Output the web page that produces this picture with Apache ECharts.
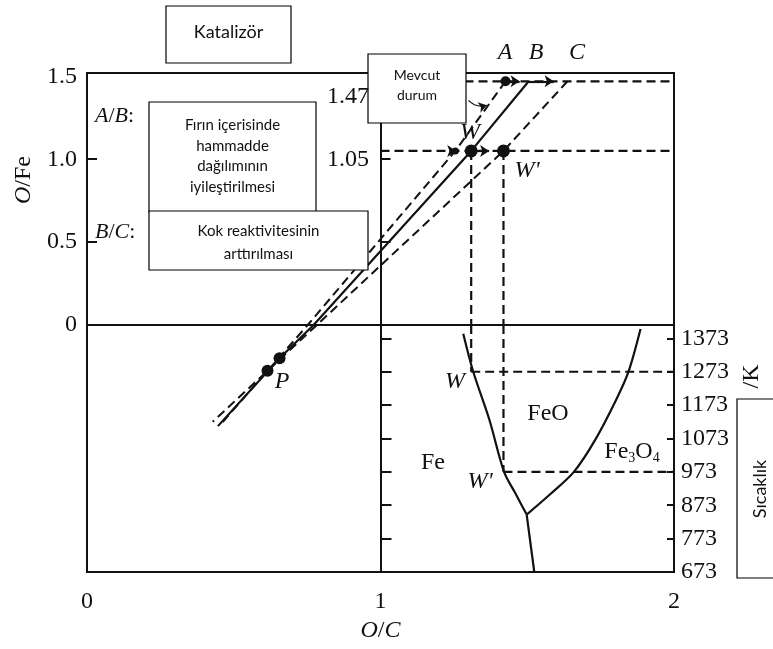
<!DOCTYPE html>
<html><head><meta charset="utf-8">
<script src="https://cdn.jsdelivr.net/npm/echarts@6/dist/echarts.min.js"></script>
<style>html,body{margin:0;padding:0;background:#fff}#c{width:773px;height:649px}</style>
</head><body><div id="c"></div>
<script>
// ---- data ----
const xTickLabels = [0, 1, 2];                 // O/C
const oFeTickLabels = [0, 0.5, 1.0, 1.5];      // O/Fe
const oFeTicks = [0.5, 1.0];
const tempTicks = [673, 773, 873, 973, 1073, 1173, 1273, 1373]; // K
// operating lines (O/C, O/Fe)
const lineA = [[1.426, 1.47], [1.255, 1.05], [0.752, 0], [0.46, -0.59]];
const lineB = [[1.505, 1.47], [1.309, 1.05], [0.772, 0], [0.656, -0.201], [0.446, -0.61]];
const lineC = [[1.637, 1.47], [1.419, 1.05], [0.783, 0], [0.428, -0.584]];
const pPoints = [[0.615, -0.276], [0.656, -0.201]];
const level147 = 1.47;
const level105 = 1.05;
const wOC = 1.309, wpOC = 1.419, aOC = 1.426, bOC = 1.505, aLowOC = 1.255;
const wTemp = 1273, wpTemp = 973;
// phase boundaries (O/C, T/K)
const feFeO = [[1.282, 1387], [1.316, 1273], [1.371, 1129], [1.421, 973], [1.46, 908], [1.498, 845]];
const feoFe3o4 = [[1.498, 845], [1.578, 906], [1.659, 973], [1.731, 1068], [1.803, 1189], [1.845, 1273], [1.886, 1401]];
const feFe3o4 = [[1.498, 845], [1.524, 673]];
// arrow segments (O/C) on the level lines
const arrows147 = [[aOC, 1.474], [bOC, 1.59]];
const arrows105 = [[wOC, 1.37], [1.235, 1.258]];

// ---- layout ----
const serif = '"Liberation Serif","Times New Roman",serif';
const sans = 'Lato,"Open Sans",sans-serif';
const GL = 87, GW = 587;
const oFeMax = 1.52, oFeMin = -1.49, tMin = 673, tMax = 1413;
const ink = '#111';

const chart = echarts.init(document.getElementById('c'), null, {renderer: 'canvas'});

function ln(data, xi, yi, dashed, w, smooth) {
  return {type: 'line', xAxisIndex: xi, yAxisIndex: yi, data: data, symbol: 'none', silent: true,
    smooth: smooth || false, clip: true, animation: false,
    lineStyle: {color: ink, width: w || 2, type: dashed ? [9, 5] : 'solid'}, z: 3};
}
function dots(data, xi, yi, size) {
  return {type: 'scatter', xAxisIndex: xi, yAxisIndex: yi, data: data, symbol: 'circle',
    symbolSize: size, itemStyle: {color: ink, opacity: 1}, silent: true, animation: false, z: 5};
}
function arrowSegs(list, y, xi, yi) {
  return {type: 'lines', coordinateSystem: 'cartesian2d', xAxisIndex: xi, yAxisIndex: yi,
    data: list.map(s => ({coords: [[s[0], y], [s[1], y]]})),
    symbol: ['none', 'arrow'], symbolSize: 9, lineStyle: {color: ink, width: 2.2, type: 'solid', opacity: 1},
    silent: true, animation: false, z: 4};
}

const series = [
  // upper grid
  ln(lineA, 0, 0, true, 2), ln(lineB, 0, 0, false, 2.2), ln(lineC, 0, 0, true, 2),
  ln([[1, level147], [2, level147]], 0, 0, true, 2.2),
  ln([[1, level105], [2, level105]], 0, 0, true, 2.2),
  ln([[wOC, level105], [wOC, 0]], 0, 0, true, 2.2),
  ln([[wpOC, level105], [wpOC, 0]], 0, 0, true, 2.2),
  dots([[wOC, level105], [wpOC, level105]], 0, 0, 13),
  dots([[aOC, level147]], 0, 0, 10),
  dots([[aLowOC, level105]], 0, 0, 7),
  arrowSegs(arrows147, level147, 0, 0),
  arrowSegs(arrows105, level105, 0, 0),
  {type: 'lines', coordinateSystem: 'cartesian2d', xAxisIndex: 0, yAxisIndex: 0,
    data: [{coords: [[1.30, 1.355], [1.362, 1.325]]}], symbol: ['none', 'arrow'], symbolSize: 8,
    lineStyle: {color: ink, width: 1.2, curveness: -0.3, opacity: 1}, silent: true, animation: false, z: 4},
  // lower grid, O/Fe axis
  ln(lineA, 1, 3, true, 2), ln(lineB, 1, 3, false, 2.2), ln(lineC, 1, 3, true, 2),
  dots(pPoints, 1, 3, 12),
  // lower grid, temperature axis
  ln([[wOC, tMax], [wOC, wTemp]], 1, 4, true, 2.2),
  ln([[wOC, wTemp], [2, wTemp]], 1, 4, true, 2.2),
  ln([[wpOC, tMax], [wpOC, wpTemp]], 1, 4, true, 2.2),
  ln([[wpOC, wpTemp], [2, wpTemp]], 1, 4, true, 2.2),
  ln(feFeO, 1, 4, false, 2.2, 0.3),
  ln(feoFe3o4, 1, 4, false, 2.2, 0.3),
  ln(feFe3o4, 1, 4, false, 2.2)
];

const axLine = {show: true, lineStyle: {color: ink, width: 2}};
const noSplit = {show: false};

function txt(text, x, y, font, extra) {
  return Object.assign({type: 'text', x: x, y: y, z: 50,
    style: {text: text, font: font, fill: ink, align: 'center', verticalAlign: 'middle',
      textAlign: 'center', textVerticalAlign: 'middle'}}, extra || {});
}
function box(x, y, w, h) {
  return {type: 'rect', z: 40, shape: {x: x, y: y, width: w, height: h},
    style: {fill: '#fff', stroke: '#000', lineWidth: 1.2}};
}

const option = {
  animation: false,
  backgroundColor: '#fff',
  grid: [
    {left: GL, top: 73, width: GW, height: 252, show: true, borderColor: ink, borderWidth: 2,
      backgroundColor: 'transparent', outerBoundsMode: 'none', containLabel: false},
    {left: GL, top: 325, width: GW, height: 247, show: true, borderColor: ink, borderWidth: 2,
      backgroundColor: 'transparent', outerBoundsMode: 'none', containLabel: false}
  ],
  xAxis: [
    {type: 'value', gridIndex: 0, min: 0, max: 2, show: false, splitLine: noSplit},
    {type: 'value', gridIndex: 1, min: 0, max: 2, interval: 1, axisLine: axLine, axisTick: {show: false},
      splitLine: noSplit,
      axisLabel: {margin: 18, fontFamily: serif, fontSize: 24, color: ink, customValues: xTickLabels,
        formatter: v => String(v)},
      name: '{i|O}/{i|C}', nameLocation: 'middle', nameGap: 47,
      nameTextStyle: {fontFamily: serif, fontSize: 24, color: ink, rich: {i: {fontStyle: 'italic', fontFamily: serif, fontSize: 24, color: ink}}}}
  ],
  yAxis: [
    {type: 'value', gridIndex: 0, min: 0, max: oFeMax, position: 'left', axisLine: axLine, splitLine: noSplit,
      axisTick: {show: true, inside: true, length: 10, lineStyle: {color: ink, width: 2}, customValues: oFeTicks},
      axisLabel: {margin: 10, fontFamily: serif, fontSize: 24, color: ink, customValues: oFeTickLabels,
        formatter: v => v === 0 ? '0' : v.toFixed(1)},
      name: '{i|O}/Fe', nameLocation: 'middle', nameRotate: 90, nameGap: 48,
      nameTextStyle: {fontFamily: serif, fontSize: 24, color: ink, padding: [0, 0, 0, 38],
        rich: {i: {fontStyle: 'italic', fontFamily: serif, fontSize: 24, color: ink}}}},
    {type: 'value', gridIndex: 0, min: 0, max: oFeMax, position: 'left', offset: -293.5, axisLine: axLine,
      splitLine: noSplit, axisLabel: {show: false},
      axisTick: {show: true, inside: true, length: 10, lineStyle: {color: ink, width: 2}, customValues: oFeTicks}},
    {type: 'value', gridIndex: 0, min: 0, max: oFeMax, position: 'right', axisLine: axLine, splitLine: noSplit,
      axisLabel: {show: false}, axisTick: {show: false}},
    {type: 'value', gridIndex: 1, min: oFeMin, max: 0, position: 'left', axisLine: axLine, splitLine: noSplit,
      axisLabel: {show: false}, axisTick: {show: false}},
    {type: 'value', gridIndex: 1, min: tMin, max: tMax, interval: 100, position: 'right', axisLine: axLine,
      splitLine: noSplit,
      axisTick: {show: true, inside: true, length: 7, lineStyle: {color: ink, width: 2}, customValues: tempTicks},
      axisLabel: {margin: 7, fontFamily: serif, fontSize: 24, color: ink, customValues: tempTicks,
        formatter: v => String(v)},
      name: '/K', nameLocation: 'middle', nameRotate: 90, nameGap: 64,
      nameTextStyle: {fontFamily: serif, fontSize: 24, color: ink, padding: [0, 0, 0, 144]}},
    {type: 'value', gridIndex: 1, min: tMin, max: tMax, interval: 100, position: 'left', offset: -293.5,
      axisLine: axLine, splitLine: noSplit, axisLabel: {show: false},
      axisTick: {show: true, inside: true, length: 11, lineStyle: {color: ink, width: 2}, customValues: tempTicks}}
  ],
  series: series,
  graphic: {elements: [
    txt('1.47', 369, 97, '24px ' + serif, {style: {text: '1.47', font: '24px ' + serif, fill: ink, align: 'right', verticalAlign: 'middle', textAlign: 'right', textVerticalAlign: 'middle'}}),
    txt('1.05', 369, 160, '24px ' + serif, {style: {text: '1.05', font: '24px ' + serif, fill: ink, align: 'right', verticalAlign: 'middle', textAlign: 'right', textVerticalAlign: 'middle'}}),
    txt('A', 505, 53, 'italic 24px ' + serif),
    txt('B', 536, 53, 'italic 24px ' + serif),
    txt('C', 577, 53, 'italic 24px ' + serif),
    txt('W', 470, 133, 'italic 24px ' + serif),
    txt("W'", 527, 171, 'italic 24px ' + serif),
    txt('P', 282, 382, 'italic 24px ' + serif),
    txt('W', 455, 382, 'italic 24px ' + serif),
    txt("W'", 480, 482, 'italic 24px ' + serif),
    txt('FeO', 548, 414, '24px ' + serif),
    txt('Fe', 433, 463, '24px ' + serif),
    {type: 'text', x: 632, y: 452, z: 50, style: {text: 'Fe{s|3}O{s|4}', font: '24px ' + serif, fill: ink,
      align: 'center', verticalAlign: 'middle', textAlign: 'center', textVerticalAlign: 'middle',
      rich: {s: {fontSize: 14, fontFamily: serif, padding: [12, 0, 0, 0], fill: ink}}}},
    {type: 'text', x: 95, y: 116, z: 50, style: {text: '{i|A}/{i|B}:', font: '22px ' + serif, fill: ink,
      align: 'left', verticalAlign: 'middle', textAlign: 'left', textVerticalAlign: 'middle',
      rich: {i: {fontStyle: 'italic', fontSize: 22, fontFamily: serif}}}},
    {type: 'text', x: 95, y: 232, z: 50, style: {text: '{i|B}/{i|C}:', font: '22px ' + serif, fill: ink,
      align: 'left', verticalAlign: 'middle', textAlign: 'left', textVerticalAlign: 'middle',
      rich: {i: {fontStyle: 'italic', fontSize: 22, fontFamily: serif}}}},
    box(166, 6, 125, 57),
    txt('Katalizör', 228.5, 32, '18px ' + sans, {z: 60}),
    box(149, 102, 167, 110),
    {type: 'text', x: 232.5, y: 156, z: 60, style: {text: 'Fırın içerisinde\nhammadde\ndağılımının\niyileştirilmesi',
      font: '15px ' + sans, lineHeight: 20.5, fill: ink, align: 'center', verticalAlign: 'middle', textAlign: 'center', textVerticalAlign: 'middle'}},
    box(149, 211, 219, 59),
    {type: 'text', x: 258.5, y: 242.5, z: 60, style: {text: 'Kok reaktivitesinin\narttırılması',
      font: '15px ' + sans, lineHeight: 23, fill: ink, align: 'center', verticalAlign: 'middle', textAlign: 'center', textVerticalAlign: 'middle'}},
    box(368, 54, 98, 69),
    {type: 'text', x: 417, y: 85, z: 60, style: {text: 'Mevcut\ndurum',
      font: '14px ' + sans, lineHeight: 20, fill: ink, align: 'center', verticalAlign: 'middle', textAlign: 'center', textVerticalAlign: 'middle'}},
    box(737, 399, 45, 179),
    {type: 'text', x: 760, y: 489, rotation: Math.PI / 2, z: 60, style: {text: 'Sıcaklık',
      font: '18px ' + sans, fill: ink, align: 'center', verticalAlign: 'middle', textAlign: 'center', textVerticalAlign: 'middle'}}
  ]}
};
chart.setOption(option);
</script>
</body></html>
